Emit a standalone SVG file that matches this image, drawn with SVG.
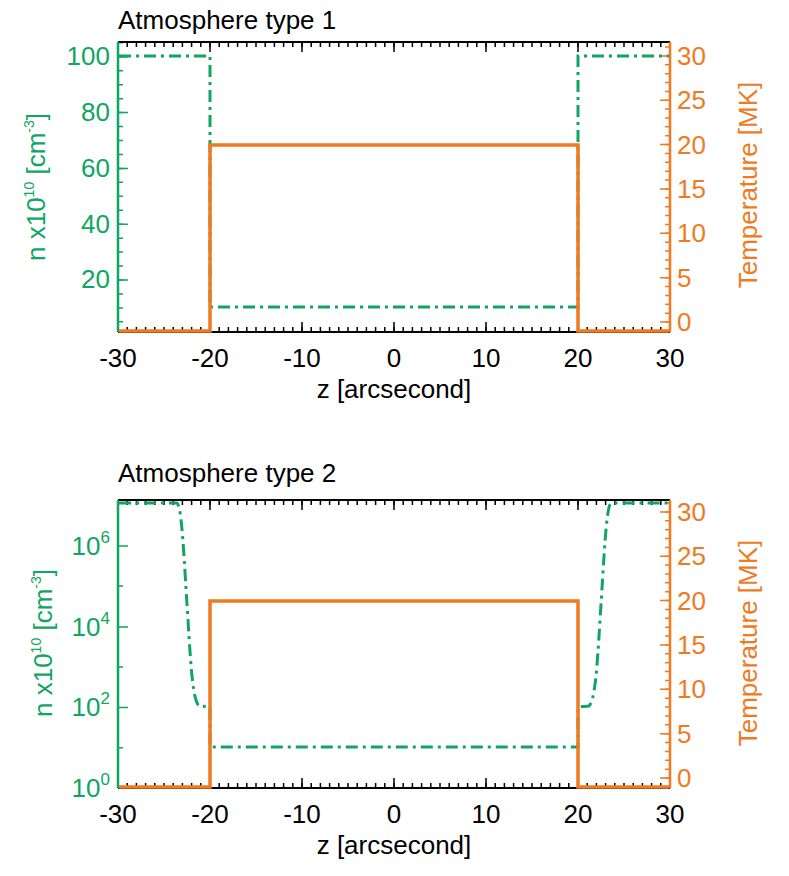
<svg xmlns="http://www.w3.org/2000/svg" width="789" height="876" viewBox="0 0 789 876">
<style>
text{font-family:"Liberation Sans",Arial,sans-serif;font-size:26px}
.k{fill:#000}.g{fill:#0fa562}.o{fill:#f07a22}
.fr{stroke:#000;stroke-width:2;fill:none}
.gl{stroke:#0fa562;stroke-width:2.5;fill:none}
.ol{stroke:#f07a22;stroke-width:2.5;fill:none}
.tk{stroke:#000;fill:none}
.gt{stroke:#0fa562;fill:none}
.ot{stroke:#f07a22;fill:none}
.n{stroke:#0fa562;stroke-width:3;fill:none;stroke-dasharray:12 5 3 5}
.t{stroke:#f07a22;stroke-width:3.5;fill:none}
.l{text-anchor:end}.m{text-anchor:middle}
</style>
<g id="plot1">
<text class="k" x="118" y="29">Atmosphere type 1</text>
<line class="fr" x1="118" y1="42" x2="670" y2="42"/>
<line class="fr" x1="118" y1="332" x2="670" y2="332"/>
<line class="tk" x1="117.25" y1="44.5" x2="671" y2="44.5" stroke-width="5" stroke-dasharray="1.5 7.7"/>
<line class="tk" x1="117.25" y1="47" x2="671" y2="47" stroke-width="10" stroke-dasharray="1.5 90.5"/>
<line class="tk" x1="117.25" y1="329.5" x2="671" y2="329.5" stroke-width="5" stroke-dasharray="1.5 7.7"/>
<line class="tk" x1="117.25" y1="327" x2="671" y2="327" stroke-width="10" stroke-dasharray="1.5 90.5"/>
<line class="gl" x1="118" y1="42" x2="118" y2="332"/>
<line class="gt" x1="120.5" y1="322.6" x2="120.5" y2="43" stroke-width="5" stroke-dasharray="1.5 12.45"/>
<line class="gt" x1="123" y1="280.75" x2="123" y2="43" stroke-width="10" stroke-dasharray="1.5 54.3"/>
<line class="ol" x1="670" y1="42" x2="670" y2="332"/>
<line class="ot" x1="667.5" y1="322.75" x2="667.5" y2="43" stroke-width="5" stroke-dasharray="1.5 7.37"/>
<line class="ot" x1="665" y1="322.75" x2="665" y2="43" stroke-width="10" stroke-dasharray="1.5 42.85"/>
<g class="g l">
<text x="110" y="65">100</text><text x="110" y="121">80</text><text x="110" y="177">60</text><text x="110" y="233">40</text><text x="110" y="288">20</text>
</g>
<text class="g m" transform="translate(45,187) rotate(-90)">n x10<tspan font-size="14" dy="-11">10</tspan><tspan dy="11"> [cm</tspan><tspan font-size="14" dy="-11">-3</tspan><tspan dy="11">]</tspan></text>
<g class="o">
<text x="677" y="331">0</text><text x="677" y="287">5</text><text x="677" y="242">10</text><text x="677" y="198">15</text><text x="677" y="154">20</text><text x="677" y="109">25</text><text x="677" y="65">30</text>
</g>
<text class="o m" transform="translate(757,185) rotate(-90)">Temperature [MK]</text>
<g class="k m">
<text x="118" y="367">-30</text><text x="210" y="367">-20</text><text x="302" y="367">-10</text><text x="394" y="367">0</text><text x="486" y="367">10</text><text x="578" y="367">20</text><text x="670" y="367">30</text>
</g>
<text class="k m" x="394" y="398">z [arcsecond]</text>
<path class="n" d="M119,56 L210,56 L210,307 L578,307 L578,56 L669,56"/>
<path class="t" d="M119,331 L210,331 L210,145 L578,145 L578,331 L669,331"/>
</g>
<g id="plot2">
<text class="k" x="118" y="482">Atmosphere type 2</text>
<line class="fr" x1="118" y1="500" x2="670" y2="500"/>
<line class="fr" x1="118" y1="788" x2="670" y2="788"/>
<line class="tk" x1="117.25" y1="502.5" x2="671" y2="502.5" stroke-width="5" stroke-dasharray="1.5 7.7"/>
<line class="tk" x1="117.25" y1="505" x2="671" y2="505" stroke-width="10" stroke-dasharray="1.5 90.5"/>
<line class="tk" x1="117.25" y1="785.5" x2="671" y2="785.5" stroke-width="5" stroke-dasharray="1.5 7.7"/>
<line class="tk" x1="117.25" y1="783" x2="671" y2="783" stroke-width="10" stroke-dasharray="1.5 90.5"/>
<line class="gl" x1="118" y1="500" x2="118" y2="788"/>
<path class="gt" stroke-width="1.5" d="M118,747.7h5M118,667h5M118,586h5M118,707.4h10M118,627h10M118,546h10"/>
<line class="ol" x1="670" y1="500" x2="670" y2="788"/>
<line class="ot" x1="667.5" y1="778.75" x2="667.5" y2="501" stroke-width="5" stroke-dasharray="1.5 7.37"/>
<line class="ot" x1="665" y1="778.75" x2="665" y2="501" stroke-width="10" stroke-dasharray="1.5 42.85"/>
<g class="g l">
<text x="110" y="797">10<tspan font-size="17" dy="-12">0</tspan></text>
<text x="110" y="716">10<tspan font-size="17" dy="-12">2</tspan></text>
<text x="110" y="636">10<tspan font-size="17" dy="-12">4</tspan></text>
<text x="110" y="555">10<tspan font-size="17" dy="-12">6</tspan></text>
</g>
<text class="g m" transform="translate(52,643) rotate(-90)">n x10<tspan font-size="14" dy="-11">10</tspan><tspan dy="11"> [cm</tspan><tspan font-size="14" dy="-11">-3</tspan><tspan dy="11">]</tspan></text>
<g class="o">
<text x="677" y="787">0</text><text x="677" y="743">5</text><text x="677" y="698">10</text><text x="677" y="654">15</text><text x="677" y="610">20</text><text x="677" y="565">25</text><text x="677" y="521">30</text>
</g>
<text class="o m" transform="translate(757,643) rotate(-90)">Temperature [MK]</text>
<g class="k m">
<text x="118" y="823">-30</text><text x="210" y="823">-20</text><text x="302" y="823">-10</text><text x="394" y="823">0</text><text x="486" y="823">10</text><text x="578" y="823">20</text><text x="670" y="823">30</text>
</g>
<text class="k m" x="394" y="854">z [arcsecond]</text>
<path class="n" d="M119,503 L177,503 C182,506 184,560 188,620 C191,670 193,700 199,706 L210,707 L210,747 L578,747 L578,707 L589,706 C595,700 597,670 600,620 C604,560 606,506 611,503 L669,503"/>
<path class="t" d="M119,787 L210,787 L210,601 L578,601 L578,787 L669,787"/>
</g>
</svg>
